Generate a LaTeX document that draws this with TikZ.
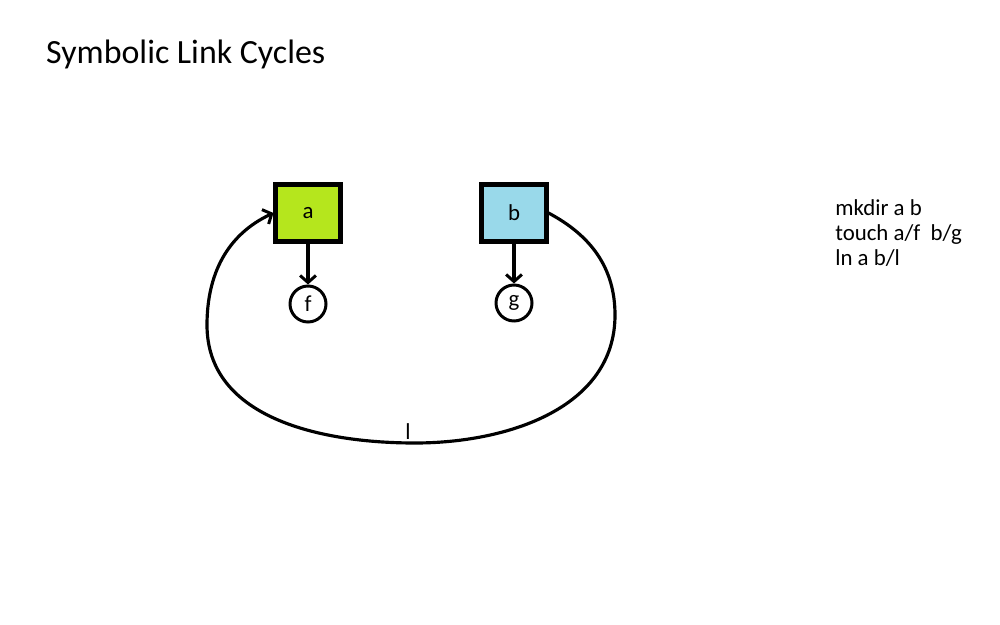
\documentclass[tikz,border=0pt]{standalone}
\usepackage{fontspec}
\setmainfont{Carlito}
\usetikzlibrary{arrows.meta}
\definecolor{limegreen}{RGB}{181,230,29}
\definecolor{lightblue}{RGB}{153,217,234}

\begin{document}
\begin{tikzpicture}[x=0.02cm, y=-0.02cm,
  dirbox/.style={draw, line width=2.3pt, minimum width=1.3cm, minimum height=1.14cm, font=\fontsize{13}{15}\selectfont},
  filenode/.style={draw, circle, line width=1.7pt, minimum size=0.72cm, inner sep=0pt, font=\fontsize{13}{15}\selectfont},
  link/.style={line width=1.8pt, -{Straight Barb[length=4pt,width=9pt,line width=1.7pt]}}]
\useasboundingbox (0,0) rectangle (1000,625);
%\draw[help lines, color=gray!30, dashed] (0,0) grid[step=1cm] (1000,625);
\node[anchor=base west, font=\fontsize{19.3}{22}\selectfont] (title) at (40,64) {Symbolic Link Cycles};
\node[dirbox, fill=limegreen] (a) at (308,213) {a};
\node[dirbox, fill=lightblue] (b) at (514,213) {b};
\node[filenode] (f) at (308,304) {f};
\node[filenode] (g) at (514,303) {g};
\draw[link] (a) -- (f);
\draw[link] (b) -- (g);
\draw[link] (b.east) to[out=-28,in=90] (615,315) to[out=-90,in=0] (415,443)
  node[above, inner sep=1pt, xshift=-0.14cm, font=\fontsize{13}{15}\selectfont] {l}
  to[out=180,in=-90] (207,325) to[out=90,in=205] (a.west);
\node[anchor=north west, align=left, inner sep=0pt, font=\fontsize{13}{14.3}\selectfont] (cmds) at (835,199)
  {mkdir a b\\touch a/f\ \ b/g\\ln a b/l};
\end{tikzpicture}
\end{document}
